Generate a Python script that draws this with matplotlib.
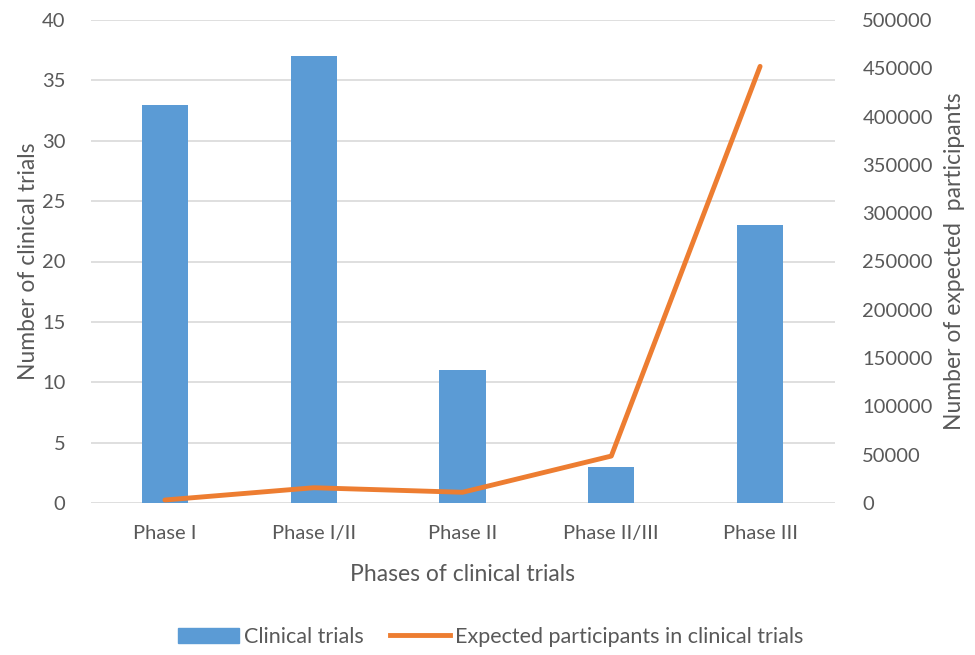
import numpy as np
import matplotlib.pyplot as plt
from matplotlib.lines import Line2D
from matplotlib.patches import Patch

phases = ["Phase I", "Phase I/II", "Phase II", "Phase II/III", "Phase III"]
trials = [33, 37, 11, 3, 23]
participants = [3100, 15800, 11100, 48600, 452000]

blue = "#5b9bd5"
orange = "#ed7d31"
txt = "#595959"
grid = "#d9d9d9"

plt.rcParams["font.family"] = ["Lato", "DejaVu Sans"]

fig = plt.figure(figsize=(9.75, 6.55), dpi=100)
ax = fig.add_axes([90.5 / 975, 1 - 503 / 655, 744 / 975, 483 / 655])
ax2 = ax.twinx()

x = np.arange(len(phases))
ax.bar(x, trials, width=0.31, color=blue, zorder=2)
ax2.plot(x, participants, color=orange, lw=3.5, solid_capstyle="round",
         solid_joinstyle="round", zorder=3)

ax.set_xlim(-0.5, len(phases) - 0.5)
ax.set_ylim(0, 40)
ax.set_yticks(range(0, 41, 5))
ax2.set_ylim(0, 500000)
ax2.set_yticks(range(0, 500001, 50000))
ax.set_zorder(ax2.get_zorder() - 1)
ax2.patch.set_visible(False)

ax.yaxis.grid(True, color=grid, lw=1.2)
ax.set_axisbelow(True)
for a in (ax, ax2):
    for s in a.spines.values():
        s.set_visible(False)
    a.tick_params(length=0, labelsize=14.5, colors=txt)
ax.tick_params(axis="y", pad=18)
ax2.tick_params(axis="y", pad=20)
ax.tick_params(axis="x", pad=16)

ax.set_xticks(x)
ax.set_xticklabels(phases)
ax.set_xlabel("Phases of clinical trials", fontsize=16.5, color=txt, labelpad=16)
ax.set_ylabel("Number of clinical trials", fontsize=16.5, color=txt, labelpad=2)
ax2.set_ylabel("Number of expected  participants", fontsize=16.5, color=txt, labelpad=8)

handles = [Patch(color=blue), Line2D([], [], color=orange, lw=3.5)]
fig.legend(handles, ["Clinical trials", "Expected participants in clinical trials"],
           loc="center", bbox_to_anchor=(491 / 975, 1 - 637 / 655), ncol=2,
           frameon=False, fontsize=15.5, labelcolor=txt, handlelength=2.8,
           handletextpad=0.25, columnspacing=1.2)

fig.savefig("out.png", dpi=100)
